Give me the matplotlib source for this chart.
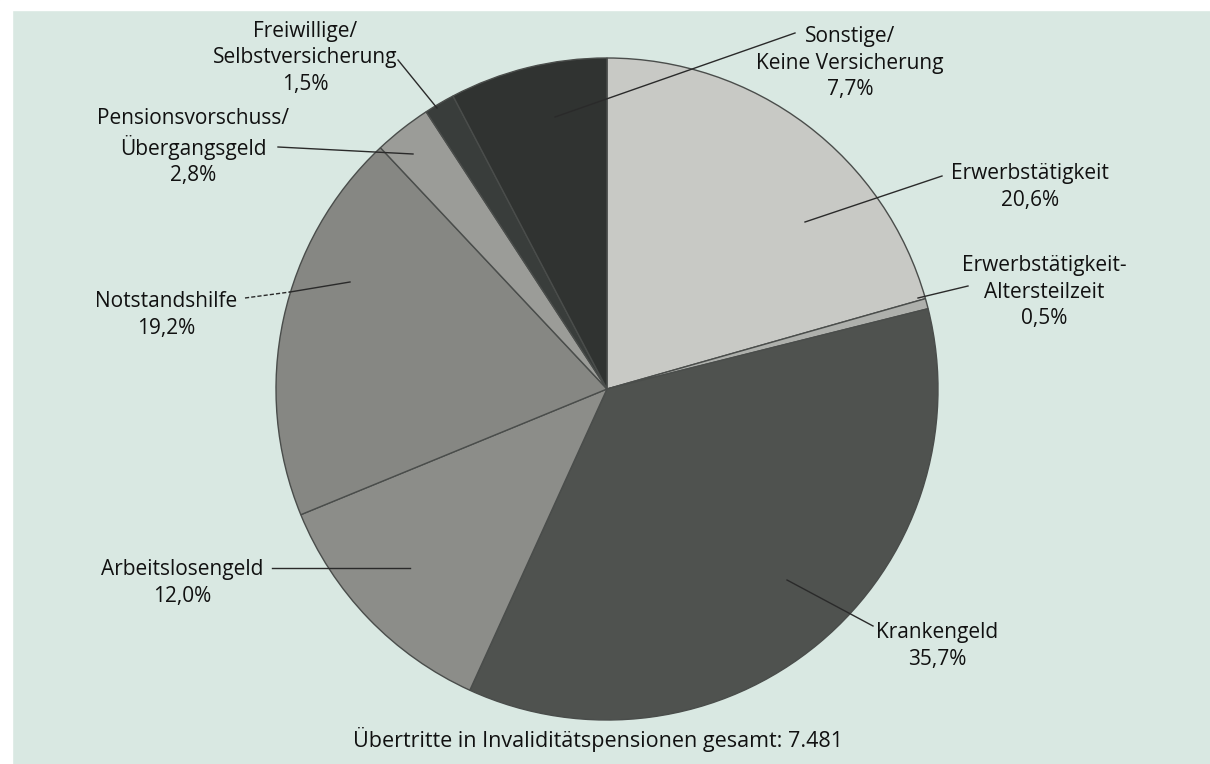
#!/usr/bin/env python3
"""
Pie chart: Übertritte in Invaliditätspensionen nach vorherigem Status.
Saves out.png (1210x764).
"""

import matplotlib
matplotlib.use('Agg')
import matplotlib.pyplot as plt
from matplotlib.patches import Rectangle

# Data (clockwise from 12 o'clock)
categories = [
    'Erwerbstätigkeit',
    'Erwerbstätigkeit-\nAltersteilzeit',
    'Krankengeld',
    'Arbeitslosengeld',
    'Notstandshilfe',
    'Pensionsvorschuss/\nÜbergangsgeld',
    'Freiwillige/\nSelbstversicherung',
    'Sonstige/\nKeine Versicherung',
]
shares = [20.6, 0.5, 35.7, 12.0, 19.2, 2.8, 1.5, 7.7]
total_label = 'Übertritte in Invaliditätspensionen gesamt: 7.481'

# Styling
slice_colors = ['#c8c9c5', '#aeb0ac', '#4f524f', '#8c8d89',
                '#868783', '#9b9c98', '#393d3b', '#303331']
bg_color = '#d9e8e2'

# Layout (pixel coordinates, y downwards)
pie_center = (607, 389)
pie_radius = 331
label_pos = [(1030, 187), (1044, 292), (937, 646), (182, 583),
             (166, 315), (193, 147), (305, 58), (850, 63)]
leaders = [
    [(942, 176), (805, 222)],
    [(968, 286), (918, 298)],
    [(873, 626), (787, 580)],
    [(272, 568), (410, 568)],
    [(290, 292), (350, 282)],
    [(278, 147), (413, 154)],
    [(398, 60), (437, 108)],
    [(795, 33), (555, 117)],
]
dashed_leaders = [
    [(245, 298), (290, 292)],
]

plt.rcParams['font.family'] = ['Open Sans', 'DejaVu Sans']

fig = plt.figure(figsize=(12.1, 7.64), dpi=100)
fig.patch.set_facecolor(bg_color)
ax = fig.add_axes([0, 0, 1, 1])
ax.set_facecolor(bg_color)

# y axis is inverted, so startangle=-90 / counterclock=True runs clockwise from the top
ax.pie(shares, colors=slice_colors, startangle=-90, counterclock=True,
       center=pie_center, radius=pie_radius,
       wedgeprops=dict(edgecolor='#4a4d4b', linewidth=1.0))

ax.set_xlim(0, 1210)
ax.set_ylim(764, 0)
ax.set_aspect('equal')
ax.axis('off')

# white scan margins
ax.add_patch(Rectangle((0, 0), 1210, 10, color='white', zorder=0.5))
ax.add_patch(Rectangle((0, 0), 12, 764, color='white', zorder=0.5))

for name, share, (x, y), pts in zip(categories, shares, label_pos, leaders):
    pct = f'{share:.1f}%'.replace('.', ',')
    ax.text(x, y, f'{name}\n{pct}', ha='center', va='center',
            fontsize=15, color='#111111', linespacing=1.33)
    ax.plot([p[0] for p in pts], [p[1] for p in pts],
            color='#2a2a2a', linewidth=1.0, zorder=5)

for pts in dashed_leaders:
    ax.plot([p[0] for p in pts], [p[1] for p in pts],
            color='#2a2a2a', linewidth=1.0, linestyle=(0, (3, 1.5)), zorder=5)

ax.text(598, 740, total_label, ha='center', va='center',
        fontsize=15.5, color='#111111')

plt.savefig('out.png', dpi=100, facecolor=bg_color)
